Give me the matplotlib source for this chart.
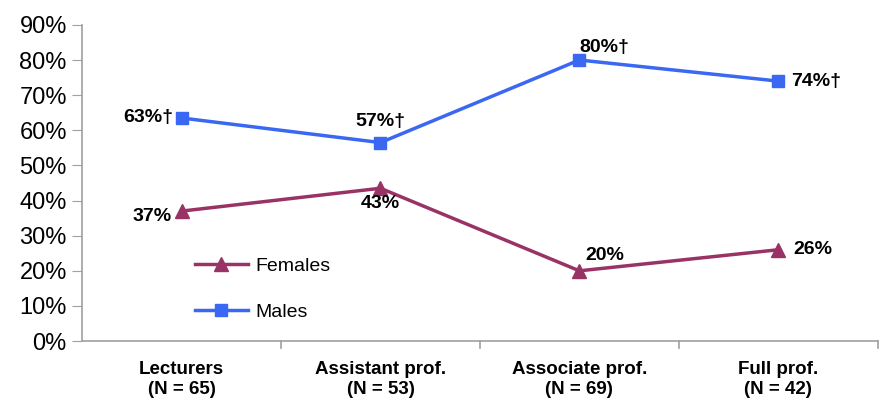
import matplotlib.pyplot as plt
from matplotlib import font_manager

categories = ["Lecturers\n(N = 65)", "Assistant prof.\n(N = 53)",
              "Associate prof.\n(N = 69)", "Full prof.\n(N = 42)"]
males = [63.5, 56.5, 80, 74]
females = [37, 43.5, 20, 26]
male_labels = ["63%†", "57%†", "80%†", "74%†"]
female_labels = ["37%", "43%", "20%", "26%"]

names = {f.name for f in font_manager.fontManager.ttflist}
narrow = "Liberation Sans Narrow" if "Liberation Sans Narrow" in names else "Liberation Sans"
plt.rcParams['font.family'] = ['Liberation Sans', 'DejaVu Sans']

blue = "#3a68f2"
maroon = "#993366"
grey = "#a0a0a0"

fig = plt.figure(figsize=(8.83, 4.08), dpi=100)
ax = fig.add_axes([0.093, 0.164, 0.901, 0.775])

x = range(len(categories))
ax.plot(x, females, color=maroon, lw=2.5, marker="^", ms=10, label="Females")
ax.plot(x, males, color=blue, lw=2.5, marker="s", ms=8, label="Males")

# data labels (offsets in points)
m_off = [(-6, 0, "right", "center"), (0, 9, "center", "bottom"),
         (0, 3, "left", "bottom"), (9, 0, "left", "center")]
f_off = [(-7, -4, "right", "center"), (0, -5, "center", "top"),
         (4, 5, "left", "bottom"), (11, 0, "left", "center")]
for i in x:
    dx, dy, ha, va = m_off[i]
    ax.annotate(male_labels[i], (i, males[i]), xytext=(dx, dy), textcoords="offset points",
                ha=ha, va=va, fontsize=14, fontweight="bold")
    dx, dy, ha, va = f_off[i]
    ax.annotate(female_labels[i], (i, females[i]), xytext=(dx, dy), textcoords="offset points",
                ha=ha, va=va, fontsize=14, fontweight="bold")

ax.set_xlim(-0.5, 3.5)
ax.set_ylim(0, 90)
ax.set_yticks(range(0, 91, 10))
ax.set_yticklabels([f"{v}%" for v in range(0, 91, 10)], fontsize=17)
ax.set_xticks([0.5, 1.5, 2.5, 3.5])
ax.set_xticklabels([])
ax.set_xticks(list(x), minor=True)
ax.set_xticklabels(categories, minor=True, fontsize=13.5, fontweight="bold",
                   family=narrow, linespacing=1.3)
ax.tick_params(axis="x", which="major", direction="in", length=0)
ax.tick_params(axis="x", which="minor", length=0, pad=14)
ax.tick_params(axis="y", direction="out", length=7, color=grey, pad=4)
for s in ["top", "right"]:
    ax.spines[s].set_visible(False)
for s in ["left", "bottom"]:
    ax.spines[s].set_color(grey)
    ax.spines[s].set_linewidth(1.2)

# category separators hanging below the axis
for b in [0.5, 1.5, 2.5, 3.5]:
    ax.plot([b, b], [0, -2], color=grey, lw=1.2, clip_on=False)

ax.legend(loc="upper left", bbox_to_anchor=(0.12, 0.32), frameon=False, fontsize=14,
          handlelength=2.7, labelspacing=1.45, handletextpad=0.4)

fig.savefig("out.png", dpi=100)
